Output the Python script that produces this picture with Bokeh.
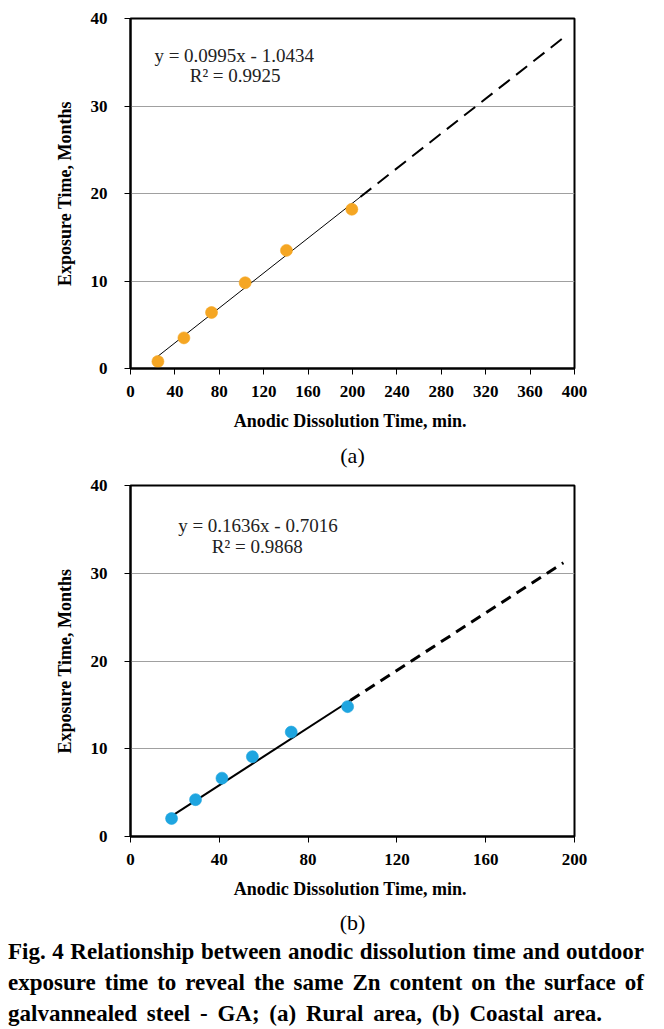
from bokeh.plotting import figure
from bokeh.models import Range1d, FixedTicker, Label, Title, Div
from bokeh.layouts import column
from bokeh.embed import file_html
from bokeh.resources import INLINE

# ---------------- data ----------------
# (a) Rural area
a_x = [24.7, 48.1, 73.0, 103.3, 140.5, 199.4]
a_y = [0.8, 3.5, 6.4, 9.8, 13.5, 18.2]
a_fit_solid_x = [24.7, 207.0]
a_fit_solid_y = [1.4, 19.6]
a_fit_dash_x = [207.0, 390.0]
a_fit_dash_y = [19.6, 37.8]
a_xticks = [0, 40, 80, 120, 160, 200, 240, 280, 320, 360, 400]
a_eq = "y = 0.0995x - 1.0434"
a_r2 = "R² = 0.9925"

# (b) Coastal area
b_x = [18.5, 29.3, 41.2, 54.9, 72.4, 97.8]
b_y = [2.05, 4.2, 6.65, 9.1, 11.9, 14.8]
b_fit_solid_x = [18.5, 99.0]
b_fit_solid_y = [2.33, 15.5]
b_fit_dash_x = [99.0, 195.0]
b_fit_dash_y = [15.5, 31.2]
b_xticks = [0, 40, 80, 120, 160, 200]
b_eq = "y = 0.1636x - 0.7016"
b_r2 = "R² = 0.9868"

yticks = [0, 10, 20, 30, 40]
grid_ticks = [10, 20, 30]
x_title = "Anodic Dissolution  Time, min."
y_title = "Exposure Time, Months"
caption_lines = [
    "Fig. 4 Relationship between anodic dissolution time and outdoor",
    "exposure time to reveal the same Zn content on the surface of",
    "galvannealed steel - GA; (a) Rural area, (b) Coastal area.",
]

SERIF = "Liberation Serif"


def make_plot(xmax, xticks, xs, ys, sx, sy, dx, dy, eq, r2, eq_pos, r2_pos,
              color, solid_w, dash_w, dash, sub, sub_standoff, left, top, bottom, fh):
    p = figure(output_backend="svg", toolbar_location=None,
               frame_width=444, frame_height=fh,
               min_border_left=left, min_border_right=656 - left - 444,
               min_border_top=top, min_border_bottom=bottom,
               x_range=Range1d(0, xmax), y_range=Range1d(0, 40))
    p.background_fill_color = "white"
    p.border_fill_color = "white"
    p.outline_line_color = "black"
    p.outline_line_width = 2
    p.xgrid.visible = False
    p.ygrid.ticker = FixedTicker(ticks=grid_ticks)
    p.ygrid.grid_line_color = "#a0a0a0"
    p.ygrid.grid_line_width = 1

    p.xaxis.ticker = FixedTicker(ticks=xticks)
    p.yaxis.ticker = FixedTicker(ticks=yticks)
    for ax in (p.xaxis[0], p.yaxis[0]):
        ax.axis_line_color = "black"
        ax.axis_line_width = 2
        ax.major_tick_line_color = "black"
        ax.major_tick_line_width = 1
        ax.major_tick_in = 0
        ax.major_tick_out = 6
        ax.minor_tick_line_color = None
        ax.major_label_text_font = SERIF
        ax.major_label_text_font_style = "bold"
        ax.major_label_text_font_size = "17px"
        ax.major_label_text_color = "black"
        ax.axis_label_text_font = SERIF
        ax.axis_label_text_font_style = "bold"
        ax.axis_label_text_font_size = "18px"
        ax.axis_label_text_color = "black"
    p.xaxis.major_label_standoff = 11
    p.xaxis.axis_label_standoff = 11
    p.yaxis.major_label_standoff = 17
    p.yaxis.axis_label_standoff = 13
    p.xaxis.axis_label = x_title
    p.yaxis.axis_label = y_title

    p.line(sx, sy, line_color="black", line_width=solid_w)
    p.line(dx, dy, line_color="black", line_width=dash_w, line_dash=dash)
    p.scatter(xs, ys, size=12, fill_color=color, line_color=color, line_alpha=0.6)

    p.add_layout(Label(x=eq_pos[0], y=eq_pos[1], text=eq, text_align="center",
                       text_baseline="middle", text_font=SERIF,
                       text_font_size="19px", text_color="#222222"))
    p.add_layout(Label(x=r2_pos[0], y=r2_pos[1], text=r2, text_align="center",
                       text_baseline="middle", text_font=SERIF,
                       text_font_size="19px", text_color="#222222"))

    p.add_layout(Title(text=sub, align="center", text_font=SERIF,
                       text_font_style="normal", text_font_size="22px",
                       text_color="black", standoff=sub_standoff), "below")
    return p


pa = make_plot(400, a_xticks, a_x, a_y, a_fit_solid_x, a_fit_solid_y,
               a_fit_dash_x, a_fit_dash_y, a_eq, a_r2, (93.4, 35.8), (94.3, 33.5),
               "#F5A623", 1, 2, "14 8", "(a)", 14, 129, 18, 107, 350)
pb = make_plot(200, b_xticks, b_x, b_y, b_fit_solid_x, b_fit_solid_y,
               b_fit_dash_x, b_fit_dash_y, b_eq, b_r2, (57.4, 35.4), (57.1, 33.0),
               "#1EA5E0", 2, 3, "11 7", "(b)", 12, 130, 10, 98, 351)

line_style = ("font-family:'Liberation Serif'; font-weight:bold; font-size:23px;"
              " line-height:31px; color:black;")
html = (
    "<div style=\"padding-left:8px; width:644px; margin-top:-4px;\">"
    f"<div style=\"{line_style} text-align:justify; text-align-last:justify;\">{caption_lines[0]}</div>"
    f"<div style=\"{line_style} text-align:justify; text-align-last:justify;\">{caption_lines[1]}</div>"
    f"<div style=\"{line_style} word-spacing:4px;\">{caption_lines[2]}</div>"
    "</div>"
)
cap = Div(text=html, width=656, styles={"margin": "0", "padding": "0"})

layout = column(pa, pb, cap, spacing=0)
open("out.html", "w").write(file_html(layout, INLINE))
